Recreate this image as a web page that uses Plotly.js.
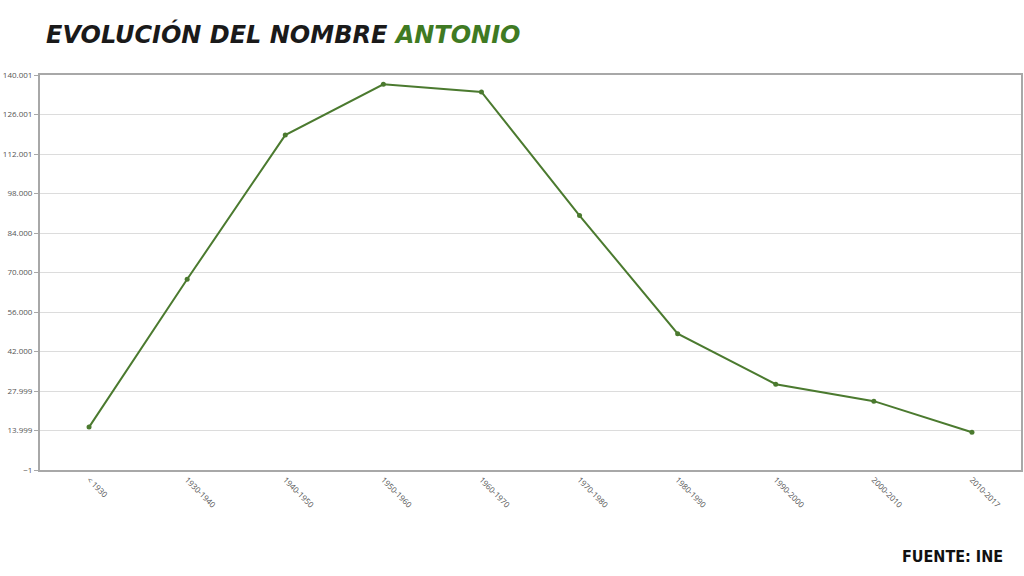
<!DOCTYPE html>
<html>
<head>
<meta charset="utf-8">
<script src="https://cdn.plot.ly/plotly-3.0.1.min.js"></script>
<style>html,body{margin:0;padding:0;background:#fff;}#chart{width:1024px;height:576px;}</style>
</head>
<body>
<div id="chart"></div>
<script>
const categories = ['< 1930','1930-1940','1940-1950','1950-1960','1960-1970','1970-1980','1980-1990','1990-2000','2000-2010','2010-2017'];
const values = [15200, 67600, 118700, 136700, 134000, 90200, 48300, 30400, 24400, 13400];
const yTickVals = [-1, 13999, 27999, 42000, 56000, 70000, 84000, 98000, 112001, 126001, 140001];

const trace = {
  x: categories,
  y: values,
  type: 'scatter',
  mode: 'lines+markers',
  line: {color: '#4b7a2f', width: 2},
  marker: {color: '#4b7a2f', size: 5},
  hoverinfo: 'x+y'
};

const layout = {
  width: 1024, height: 576,
  margin: {l: 40, r: 3, t: 75, b: 106},
  paper_bgcolor: '#ffffff',
  plot_bgcolor: '#ffffff',
  separators: ',.',
  showlegend: false,
  font: {family: '"Open Sans", "DejaVu Sans", sans-serif', color: '#666'},
  xaxis: {
    type: 'category',
    range: [-0.5, 9.5],
    tickangle: 45,
    tickfont: {size: 8, color: '#555'},
    showline: true, linecolor: '#a8a8a8', linewidth: 2, mirror: true,
    showgrid: false, zeroline: false,
    ticks: 'outside', ticklen: 0
  },
  yaxis: {
    range: [-1, 140001],
    tickvals: yTickVals,
    tickformat: ',d',
    tickfont: {size: 8, color: '#555'},
    showline: true, linecolor: '#a8a8a8', linewidth: 2, mirror: true,
    gridcolor: '#dcdcdc', gridwidth: 1,
    zeroline: false,
    ticks: 'outside', ticklen: 4, tickcolor: '#a8a8a8'
  },
  title: {
    text: '<b><i>EVOLUCIÓN DEL NOMBRE <span style="color:#3f7a23">ANTONIO</span></i></b>',
    font: {family: '"DejaVu Sans", sans-serif', size: 24, color: '#1a1a1a'},
    x: 46/1024, xanchor: 'left', xref: 'container',
    y: 1 - 35/576, yanchor: 'middle', yref: 'container'
  },
  annotations: [{
    text: '<b>FUENTE: INE</b>',
    xref: 'paper', yref: 'paper',
    x: (1005-40)/981, xanchor: 'right',
    y: -(556-470)/395, yanchor: 'middle',
    showarrow: false,
    font: {family: '"DejaVu Sans Condensed", sans-serif', size: 16, color: '#111'}
  }]
};

Plotly.newPlot('chart', [trace], layout, {displayModeBar: false, staticPlot: true});
</script>
</body>
</html>
